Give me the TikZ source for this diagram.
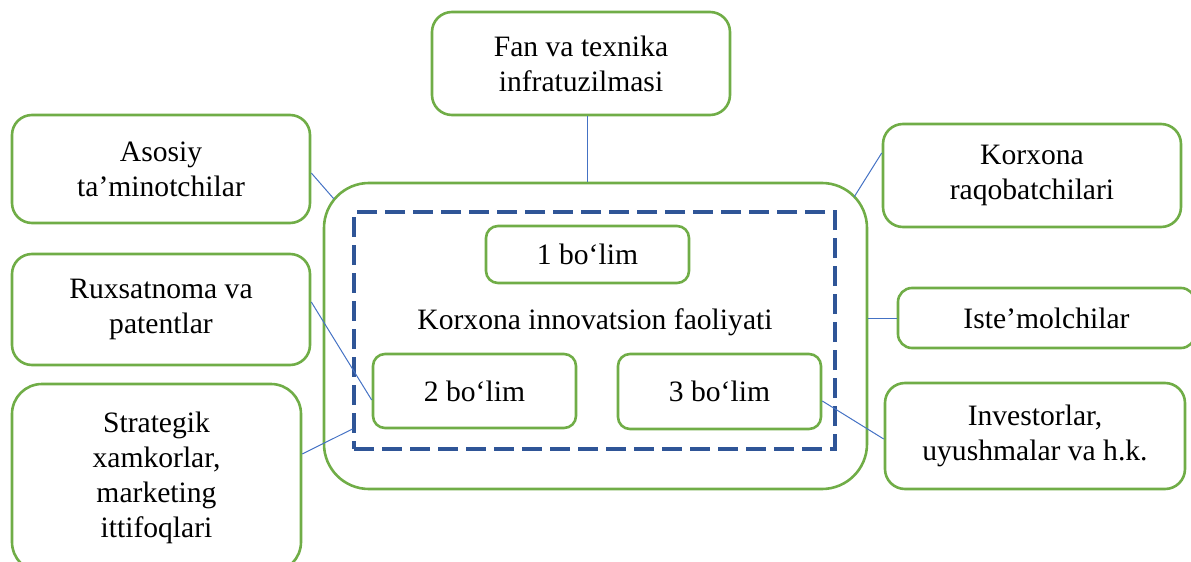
\documentclass[tikz,border=0pt]{standalone}
\usepackage{fontspec}
\setmainfont{Liberation Serif}
\usetikzlibrary{calc}
\definecolor{boxgreen}{HTML}{70AD47}
\definecolor{linkblue}{HTML}{4472C4}
\definecolor{dashblue}{HTML}{2F5597}
\tikzset{
  gbox/.style={draw=boxgreen, line width=1.3pt, rounded corners=10pt, align=center,
    font=\fontsize{14.8}{17.6}\selectfont, inner sep=0pt},
  link/.style={draw=linkblue, line width=0.5pt},
}
\begin{document}
\begin{tikzpicture}[x=0.5pt,y=-0.5pt]
\useasboundingbox (0,0) rectangle (1191,562);
% central frame
\node[gbox, rounded corners=22.5pt, minimum width=271.5pt, minimum height=153pt] (outer) at (595.5,336) {};
\node[draw=dashblue, line width=1.6pt, dash pattern=on 10pt off 4pt, minimum width=240.5pt, minimum height=118.5pt, inner sep=0pt] (dash) at (594.5,330.5) {};
\node[font=\fontsize{14.8}{17.6}\selectfont] (title) at (595,322) {Korxona innovatsion faoliyati};
\node[gbox, rounded corners=6pt, minimum width=101.5pt, minimum height=28.5pt] (b1) at (587.5,254.5) {1 bo‘lim};
\node[gbox, rounded corners=6pt, minimum width=101.5pt, minimum height=37pt] (b2) at (474.5,391) {2 bo‘lim};
\node[gbox, rounded corners=6pt, minimum width=101.5pt, minimum height=37.5pt] (b3) at (719.5,391.5) {3 bo‘lim};
% outer boxes
\node[gbox, minimum width=149pt, minimum height=51.5pt] (fan) at (581,63.5) {Fan va texnika\\infratuzilmasi};
\node[gbox, minimum width=149pt, minimum height=54pt] (asos) at (161,169) {Asosiy\\ta’minotchilar};
\node[gbox, minimum width=149pt, minimum height=55.5pt] (rux) at (161,309.5) {Ruxsatnoma va\\patentlar};
\node[gbox, rounded corners=15pt, minimum width=144.5pt, minimum height=94pt] (strat) at (156.5,478) {Strategik\\xamkorlar,\\marketing\\ittifoqlari};
\node[gbox, minimum width=149pt, minimum height=51.5pt] (raq) at (1032,175.5) {Korxona\\raqobatchilari};
\node[gbox, rounded corners=7pt, minimum width=148.5pt, minimum height=30pt] (ist) at (1046.5,318) {Iste’molchilar};
\node[gbox, minimum width=150pt, minimum height=53pt] (inv) at (1035,436) {Investorlar,\\uyushmalar va h.k.};
% connectors
\draw[link] (fan.south) ++(6,0) coordinate (f1) -- (f1 |- outer.north);
\draw[link] ($(asos.east)+(0,4)$) -- ($(outer.north west)+(11,17)$);
\draw[link] ($(rux.east)+(0,-7.5)$) -- ($(b2.west)+(0,9)$);
\draw[link] ($(strat.east)+(0,-24)$) -- ($(dash.west)+(0,98.5)$);
\draw[link] ($(raq.west)+(0,-22.5)$) -- ($(outer.north east)+(-14,15)$);
\draw[link] (ist.west) -- (ist.west -| outer.east);
\draw[link] ($(b3.east)+(0,9.5)$) -- ($(inv.west)+(0,3)$);
\end{tikzpicture}
\end{document}
